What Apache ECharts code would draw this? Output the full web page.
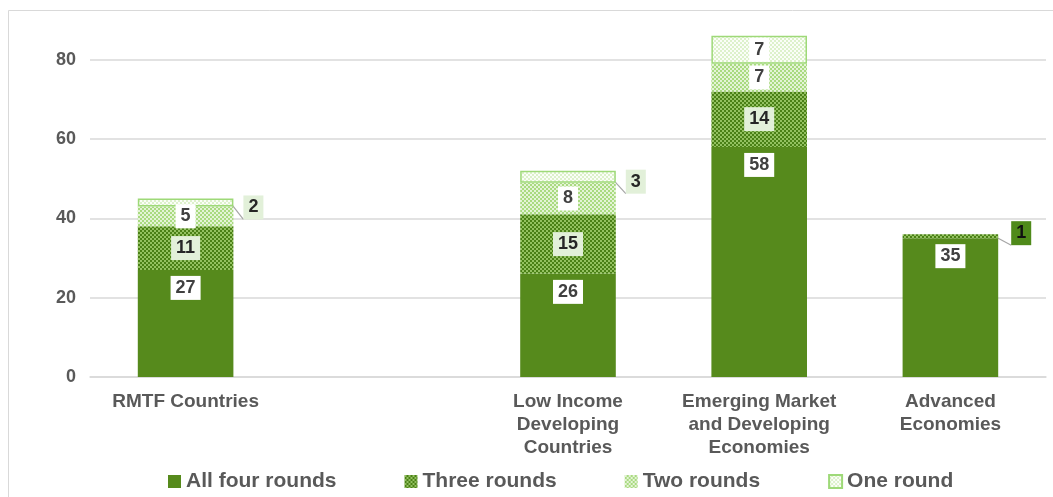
<!DOCTYPE html>
<html>
<head>
<meta charset="utf-8">
<script src="https://cdn.jsdelivr.net/npm/echarts@6/dist/echarts.min.js"></script>
<style>
  html, body { margin: 0; padding: 0; background: #ffffff; }
  #chart { width: 1053px; height: 497px; }
</style>
</head>
<body>
<div id="chart"></div>
<script>
// Country groups (the empty slot keeps the gap after the RMTF bar)
const categories = [
  'RMTF Countries',
  '',
  'Low Income\nDeveloping\nCountries',
  'Emerging Market\nand Developing\nEconomies',
  'Advanced\nEconomies'
];
// Number of countries by how many survey rounds they took part in
const allFourRounds = [27, null, 26, 58, 35];
const threeRounds   = [11, null, 15, 14, 1];
const twoRounds     = [5,  null, 8,  7,  0];
const oneRound      = [2,  null, 3,  7,  0];
const seriesNames = ['All four rounds', 'Three rounds', 'Two rounds', 'One round'];
const yTicks = [0, 20, 40, 60, 80];

const FONT = '"Liberation Sans", Arial, sans-serif';
const TEXT_GREY = '#595959';

// Small repeating dot textures for the hatched segments
function dotPattern(base, dot) {
  const c = document.createElement('canvas');
  c.width = 4; c.height = 4;
  const g = c.getContext('2d');
  g.fillStyle = base; g.fillRect(0, 0, 4, 4);
  g.fillStyle = dot;
  g.fillRect(0, 0, 2, 2);
  g.fillRect(2, 2, 2, 2);
  return { image: c, repeat: 'repeat' };
}

const solidGreen = '#568a1c';
const threePattern = dotPattern('#4a8016', '#93c160');
const twoPattern = dotPattern('#a9da80', '#e4f4d6');
const onePattern = dotPattern('#ddf1cb', '#fbfef8');

const labelText = {
  show: true,
  fontFamily: FONT,
  fontWeight: 'bold',
  fontSize: 18,
  color: '#404040',
  padding: [3, 5, 3, 5],
  formatter: p => (p.value ? String(p.value) : '')
};

// Empty segments get no label or outline; segments too thin to hold a
// label get it beside the bar with a guide line
function buildData(values, outside) {
  return values.map(v => {
    if (v == null) return null;
    if (v === 0) {
      return { value: 0, label: { show: false }, itemStyle: { borderWidth: 0 } };
    }
    if (v < 4 && outside) {
      return {
        value: v,
        label: Object.assign({ position: 'right' }, outside),
        labelLine: { show: true, lineStyle: { color: '#a6a6a6', width: 1.2 } }
      };
    }
    return v;
  });
}

const chart = echarts.init(document.getElementById('chart'), null, { renderer: 'canvas' });

chart.setOption({
  animation: false,
  backgroundColor: '#ffffff',
  textStyle: { fontFamily: FONT },
  graphic: [{
    type: 'rect',
    silent: true,
    shape: { x: 8.5, y: 10.5, width: 1100, height: 600 },
    style: { fill: 'none', stroke: '#d9d9d9', lineWidth: 1 }
  }],
  grid: { left: 90, right: 7, top: 20, bottom: 120, containLabel: false },
  legend: {
    data: seriesNames,
    left: 163,
    top: 466,
    icon: 'rect',
    itemWidth: 13,
    itemHeight: 13,
    itemGap: 68,
    textStyle: { fontFamily: FONT, fontWeight: 'bold', fontSize: 21, color: TEXT_GREY }
  },
  xAxis: {
    type: 'category',
    data: categories,
    axisTick: { show: false },
    axisLine: { lineStyle: { color: '#d9d9d9', width: 1.5 } },
    axisLabel: {
      interval: 0,
      margin: 13,
      fontFamily: FONT,
      fontWeight: 'bold',
      fontSize: 19,
      lineHeight: 23,
      color: TEXT_GREY
    }
  },
  yAxis: {
    type: 'value',
    min: 0,
    max: 90,
    interval: 20,
    axisLine: { show: false },
    axisTick: { show: false },
    splitLine: { showMaxLine: false, lineStyle: { color: '#d9d9d9', width: 1.5 } },
    axisLabel: {
      margin: 14,
      fontFamily: FONT,
      fontWeight: 'bold',
      fontSize: 18,
      color: TEXT_GREY,
      showMaxLabel: false,
      formatter: v => (yTicks.indexOf(v) >= 0 ? String(v) : '')
    }
  },
  series: [
    {
      name: seriesNames[0],
      type: 'bar',
      stack: 'rounds',
      barWidth: '50%',
      itemStyle: { color: solidGreen },
      label: Object.assign({}, labelText, { position: 'insideTop', distance: 6, backgroundColor: '#ffffff' }),
      data: buildData(allFourRounds, null)
    },
    {
      name: seriesNames[1],
      type: 'bar',
      stack: 'rounds',
      itemStyle: { color: threePattern },
      label: Object.assign({}, labelText, { position: 'inside', backgroundColor: '#e2f0d9', color: '#262626' }),
      data: buildData(threeRounds, {
        distance: 13, offset: [0, -3], backgroundColor: '#4f8a1a', color: '#111111'
      })
    },
    {
      name: seriesNames[2],
      type: 'bar',
      stack: 'rounds',
      itemStyle: { color: twoPattern },
      label: Object.assign({}, labelText, { position: 'inside', backgroundColor: '#ffffff' }),
      data: buildData(twoRounds, null)
    },
    {
      name: seriesNames[3],
      type: 'bar',
      stack: 'rounds',
      itemStyle: { color: onePattern, borderColor: '#9ed978', borderWidth: 1.5 },
      label: Object.assign({}, labelText, { position: 'inside', backgroundColor: '#ffffff' }),
      data: buildData(oneRound, {
        distance: 10, offset: [0, 5], backgroundColor: '#e2f0d9', color: '#262626'
      })
    }
  ]
});
</script>
</body>
</html>
